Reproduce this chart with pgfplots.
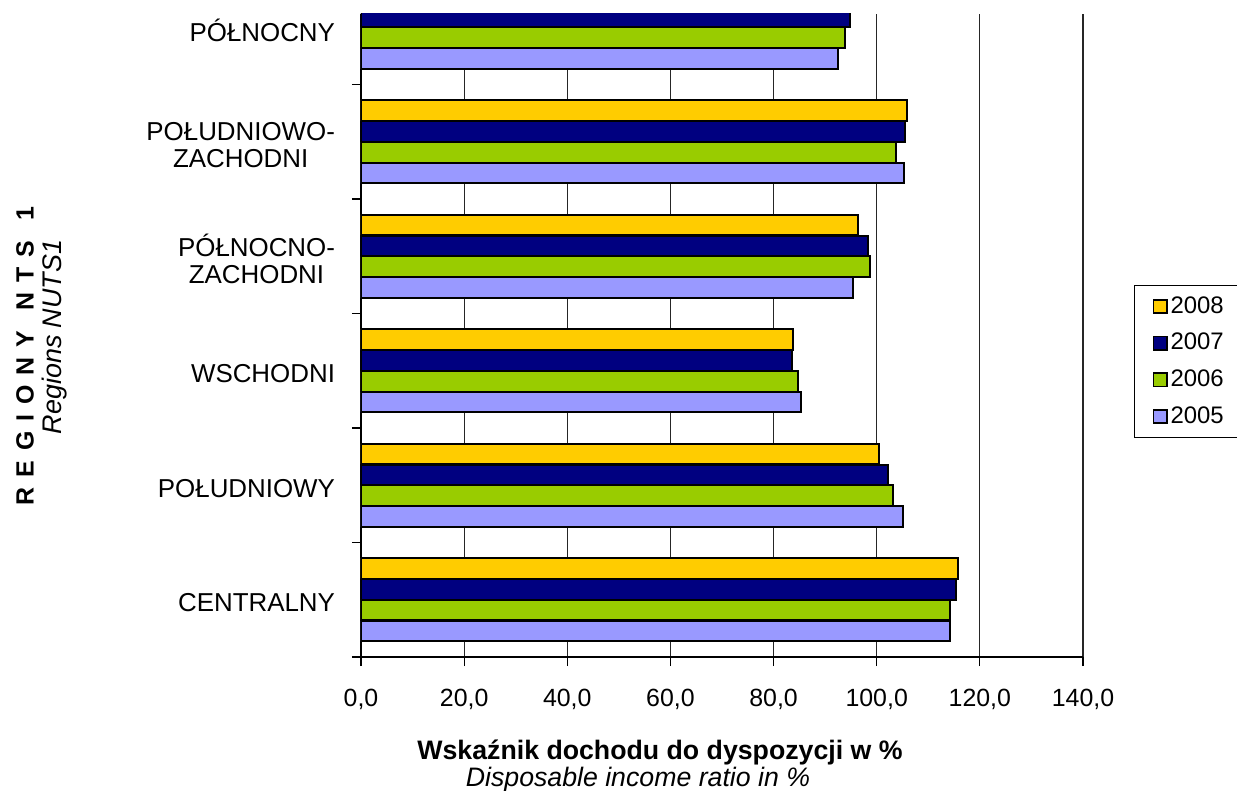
\documentclass[border=0pt]{standalone}
\usepackage{pgfplots}
\pgfplotsset{compat=1.18}
\usepackage{fontspec}
\setmainfont{Liberation Sans}
\definecolor{c08}{HTML}{FFCC00}
\definecolor{c07}{HTML}{000080}
\definecolor{c06}{HTML}{99CC00}
\definecolor{c05}{HTML}{9999FF}
\begin{document}
\begin{tikzpicture}
\begin{axis}[
  at={(0,0)}, anchor=south west,
  scale only axis, width=361bp, height=321.5bp,
  xbar, bar width=0.18,
  xmin=0, xmax=140, ymin=-0.5, ymax=5.116,
  axis x line*=bottom, axis y line*=left,
  axis line style={black, line width=0.7bp, -},
  xtick={0,20,...,140},
  xmajorgrids, grid style={black!85, line width=0.6bp},
  xtick align=outside, ytick align=outside,
  major tick length=4.5bp, minor tick length=4.5bp,
  tick style={black, line width=0.6bp},
  ytick={0,...,5},
  yticklabels={CENTRALNY, POŁUDNIOWY, WSCHODNI, {PÓŁNOCNO-\\ZACHODNI}, {POŁUDNIOWO-\\ZACHODNI}, PÓŁNOCNY},
  minor ytick={-0.5,0.5,1.5,2.5,3.5,4.5},
  major y tick style={draw=none},
  yticklabel style={align=center, font=\fontsize{13}{13.5}\selectfont, xshift=-5bp, yshift=-1.5bp},
  xticklabel style={font=\fontsize{12.5}{14}\selectfont, yshift=-8bp},
  /pgf/number format/.cd, fixed, fixed zerofill, precision=1, use comma, assume math mode=true,
  /pgfplots/.cd,
  every axis plot/.append style={draw=black, line width=1bp},
  legend style={at={(1.0706,0.5785)}, anchor=north west, draw=black, line width=0.6bp,
    font=\fontsize{12}{14}\selectfont, inner xsep=9bp, inner ysep=4bp, row sep=5.5bp,
    nodes={inner sep=1.5bp}},
  legend cell align=left,
  legend image code/.code={\draw[#1, line width=0.9bp] (0bp,-3.3bp) rectangle (6.6bp,3.3bp);},
]
\addplot[fill=c08, bar shift=0.2735] coordinates {(115.8,0) (100.5,1) (83.8,2) (96.3,3) (105.9,4) (95.0,5)};
\addplot[fill=c07, bar shift=0.0912] coordinates {(115.3,0) (102.2,1) (83.5,2) (98.4,3) (105.5,4) (94.9,5)};
\addplot[fill=c06, bar shift=-0.0912] coordinates {(114.2,0) (103.2,1) (84.7,2) (98.7,3) (103.7,4) (93.9,5)};
\addplot[fill=c05, bar shift=-0.2735] coordinates {(114.3,0) (105.1,1) (85.3,2) (95.4,3) (105.3,4) (92.4,5)};
\legend{2008,2007,2006,2005}
\end{axis}
\node[font=\bfseries\fontsize{13.4}{15}\selectfont] at (149.5bp,-47.5bp) {Wskaźnik dochodu do dyspozycji w \%};
\node[font=\itshape\fontsize{13.4}{15}\selectfont] at (138.5bp,-61.5bp) {Disposable income ratio in \%};
\node[rotate=90, font=\bfseries\fontsize{12.5}{14}\selectfont] at (-168bp,150.5bp)
  {R\kern5bp E\kern5bp G\kern5bp I\kern5bp O\kern5bp N\kern5bp Y\kern10bp N\kern5bp T\kern5bp S\kern10bp 1};
\node[rotate=90, font=\itshape\fontsize{13.5}{15}\selectfont] at (-153bp,160bp) {Regions NUTS1};
\pgfresetboundingbox
\path[use as bounding box] (-180.5bp,-67bp) rectangle (438bp,328.5bp);
\end{tikzpicture}
\end{document}
